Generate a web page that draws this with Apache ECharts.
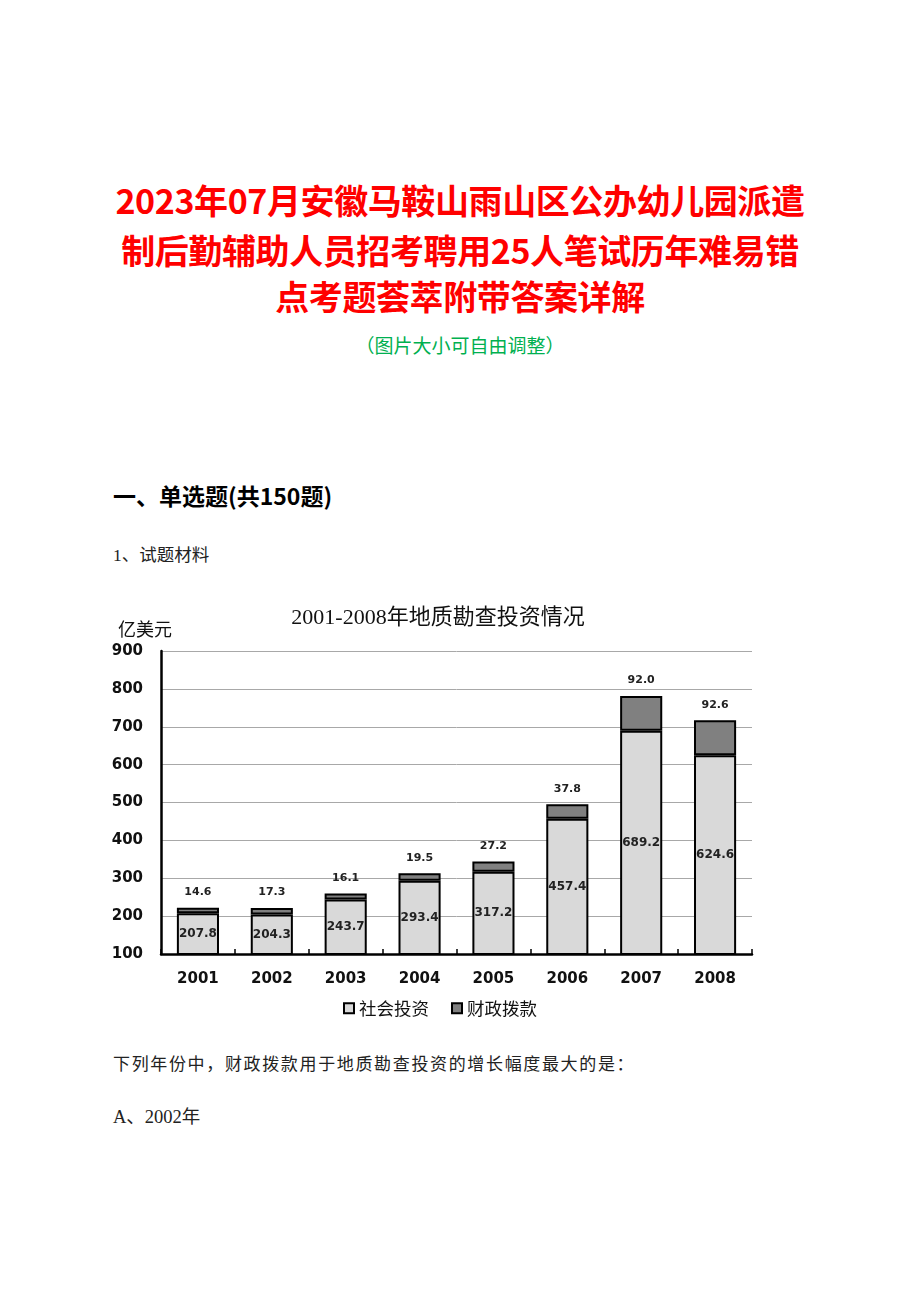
<!DOCTYPE html>
<html><head><meta charset="utf-8">
<script src="https://cdn.jsdelivr.net/npm/echarts@6/dist/echarts.min.js"></script>
<style>
body{margin:0;background:#fff;width:920px;height:1302px;position:relative;overflow:hidden;font-family:"Noto Sans CJK SC",sans-serif;}
.t{position:absolute;white-space:nowrap;}
.title{left:0;width:920px;text-align:center;color:#ff0000;font-weight:bold;font-size:34px;line-height:42px;letter-spacing:-0.4px;}
#chart{position:absolute;left:100px;top:590px;width:680px;height:450px;}
</style></head><body>
<div class="t title" style="top:179px;">2023年07月安徽马鞍山雨山区公办幼儿园派遣</div>
<div class="t title" style="top:229px;">制后勤辅助人员招考聘用25人笔试历年难易错</div>
<div class="t title" style="top:275px;">点考题荟萃附带答案详解</div>
<div class="t" style="left:0;width:920px;text-align:center;top:332px;color:#00b050;font-size:19px;line-height:26px;">（图片大小可自由调整）</div>
<div class="t" style="left:113px;top:480px;font-weight:bold;font-size:23px;line-height:30px;color:#000;">一、单选题(共150题)</div>
<div class="t" style="left:113px;top:543px;font-size:17.5px;line-height:24px;color:#222;font-family:'Liberation Serif','Noto Sans CJK SC';">1、试题材料</div>
<div id="chart"></div>
<div class="t" style="left:113px;top:1053px;font-size:17px;line-height:24px;color:#222;letter-spacing:1.65px;font-family:'Liberation Serif','Noto Sans CJK SC';">下列年份中，财政拨款用于地质勘查投资的增长幅度最大的是：</div>
<div class="t" style="left:113px;top:1105px;font-size:18.5px;line-height:24px;color:#222;font-family:'Liberation Serif','Noto Sans CJK SC';">A、2002年</div>
<script>
const years = ['2001','2002','2003','2004','2005','2006','2007','2008'];
const socialInvestment = [207.8, 204.3, 243.7, 293.4, 317.2, 457.4, 689.2, 624.6];
const fiscalAllocation = [14.6, 17.3, 16.1, 19.5, 27.2, 37.8, 92.0, 92.6];
const seriesNames = ['社会投资', '财政拨款'];
const chartTitle = '2001-2008年地质勘查投资情况';
const unitLabel = '亿美元';

const chart = echarts.init(document.getElementById('chart'), null, {renderer:'canvas'});
chart.setOption({
  animation:false,
  backgroundColor:'#fff',
  title:[
    {text:chartTitle,left:333,top:12,textAlign:'center',textStyle:{fontSize:22,fontWeight:'normal',color:'#111',fontFamily:'Liberation Serif, Noto Sans CJK SC'}},
    {text:unitLabel,left:13,top:25,textStyle:{fontSize:18,fontWeight:'normal',color:'#111',fontFamily:'Noto Sans CJK SC'}}
  ],
  legend:{
    data:seriesNames,bottom:18,left:'center',icon:'rect',itemWidth:10,itemHeight:10,itemGap:22,
    textStyle:{fontSize:17.5,color:'#111',fontFamily:'Noto Sans CJK SC'}
  },
  grid:{left:61,right:28,top:61,bottom:86},
  xAxis:{
    type:'category',data:years,
    axisLine:{lineStyle:{color:'#000',width:2.5}},
    axisTick:{show:true,inside:true,length:5,lineStyle:{color:'#000',width:1.5}},
    axisLabel:{margin:18,fontSize:15,fontWeight:'bold',color:'#111',fontFamily:'DejaVu Sans'}
  },
  yAxis:{
    type:'value',min:100,max:900,interval:100,
    axisLine:{show:true,lineStyle:{color:'#000',width:2.5}},
    axisTick:{show:false},
    axisLabel:{margin:18,fontSize:15,fontWeight:'bold',color:'#111',fontFamily:'DejaVu Sans'},
    splitLine:{lineStyle:{color:'#a8a8a8',width:1}}
  },
  series:[
    {name:seriesNames[0],type:'bar',stack:'t',data:socialInvestment,barWidth:'57%',
     itemStyle:{color:'#d9d9d9',borderColor:'#000',borderWidth:2},
     label:{show:true,position:'inside',fontSize:12,fontWeight:'bold',color:'#222',fontFamily:'DejaVu Sans'}},
    {name:seriesNames[1],type:'bar',stack:'t',data:fiscalAllocation,barWidth:'57%',
     itemStyle:{color:'#808080',borderColor:'#000',borderWidth:2},
     label:{show:true,position:'top',distance:10,fontSize:11,fontWeight:'bold',color:'#222',fontFamily:'DejaVu Sans',
       formatter:p=>Number(p.value).toFixed(1)}}
  ]
});
</script>
</body></html>
